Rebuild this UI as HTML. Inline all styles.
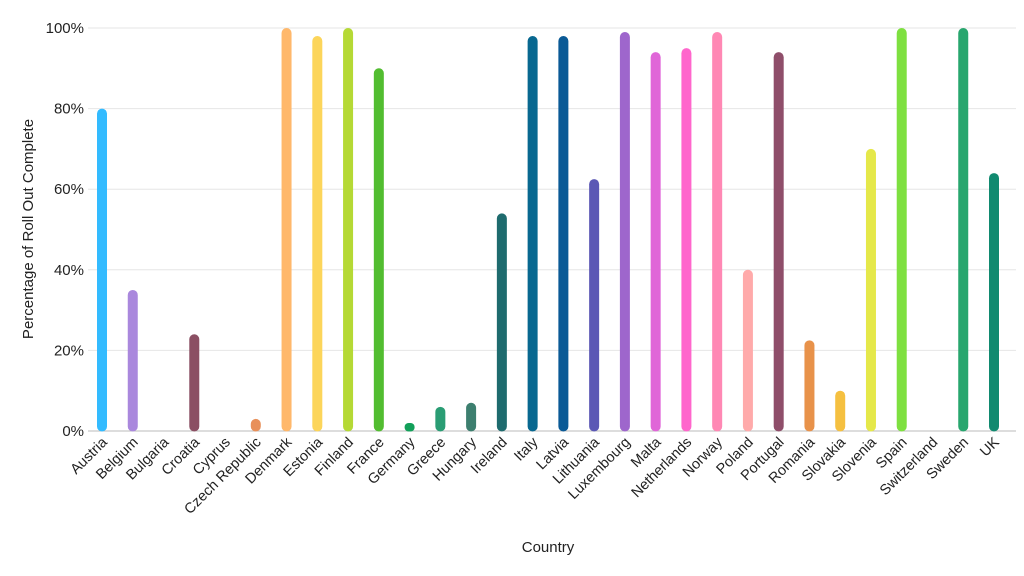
<!DOCTYPE html>
<html><head><meta charset="utf-8"><style>
body{margin:0;background:#fff;font-family:"Liberation Sans",sans-serif}
svg{display:block}
</style></head><body>
<svg id="chart" width="1024" height="576" xmlns="http://www.w3.org/2000/svg" font-family="Liberation Sans, sans-serif">
<g id="grid"></g>
<g id="yticks"></g>
<g id="bars"></g>
<g id="xticks"></g>
<text transform="translate(33,229) rotate(-90)" text-anchor="middle" font-size="15" fill="#222">Percentage of Roll Out Complete</text>
<text x="548" y="552" text-anchor="middle" font-size="15" fill="#222">Country</text>
</svg>
<script>
const categories=["Austria","Belgium","Bulgaria","Croatia","Cyprus","Czech Republic","Denmark","Estonia","Finland","France","Germany","Greece","Hungary","Ireland","Italy","Latvia","Lithuania","Luxembourg","Malta","Netherlands","Norway","Poland","Portugal","Romania","Slovakia","Slovenia","Spain","Switzerland","Sweden","UK"];
const values=[80,35,0,24,0,3,100,98,100,90,2,6,7,54,98,98,62.5,99,94,95,99,40,94,22.5,10,70,100,0,100,64];
const colors=["#33bbff","#aa88dd","#999","#8b4f63","#999","#e8905a","#ffb86b","#fcd55a","#b5d935","#52bd30","#13a05a","#2a9d74","#3d7f6f","#1e6b6e","#086890","#0a5a96","#5b58b5","#9e66cc","#e066d8","#ff66cc","#ff88b4","#ffaaaa","#8f4e6a","#e8924a","#f5c040","#e5e84a","#7ee040","#999","#28a66e","#118a70"];
const yTicks=[0,20,40,60,80,100];
const NS="http://www.w3.org/2000/svg";
const y0=431,y1=28,xFirst=102,xLast=994;
const yScale=v=>y0-(v/100)*(y0-y1);
const xScale=i=>xFirst+i*(xLast-xFirst)/(categories.length-1);
function mk(t,a){const e=document.createElementNS(NS,t);for(const k in a)e.setAttribute(k,a[k]);return e;}
const grid=document.getElementById('grid'),yt=document.getElementById('yticks'),bars=document.getElementById('bars'),xt=document.getElementById('xticks');
yTicks.forEach(v=>{
  const l=mk('line',{x1:88,x2:1016,y1:yScale(v),y2:yScale(v),stroke:v===0?'#bbb':'#e6e6e6','stroke-width':1});
  
  
  grid.appendChild(l);
  const t=mk('text',{x:84,y:yScale(v)+5,'text-anchor':'end','font-size':15,fill:'#222'});
  t.textContent=v+'%';
  
  
  yt.appendChild(t);
});
categories.forEach((c,i)=>{
  const x=xScale(i),v=values[i];
  if(v>0){
    const top=yScale(v),h=y0-top;
    const r=mk('rect',{x:x-5,y:top,width:10,height:h+0.5,rx:Math.min(5,h/2),fill:colors[i]});
    
    
    bars.appendChild(r);
  }
  const t=mk('text',{transform:`translate(${x+6},${y0+12}) rotate(-45)`,'text-anchor':'end','font-size':14.5,fill:'#222'});
  t.textContent=c;
  
  
  xt.appendChild(t);
});
</script>
</body></html>
